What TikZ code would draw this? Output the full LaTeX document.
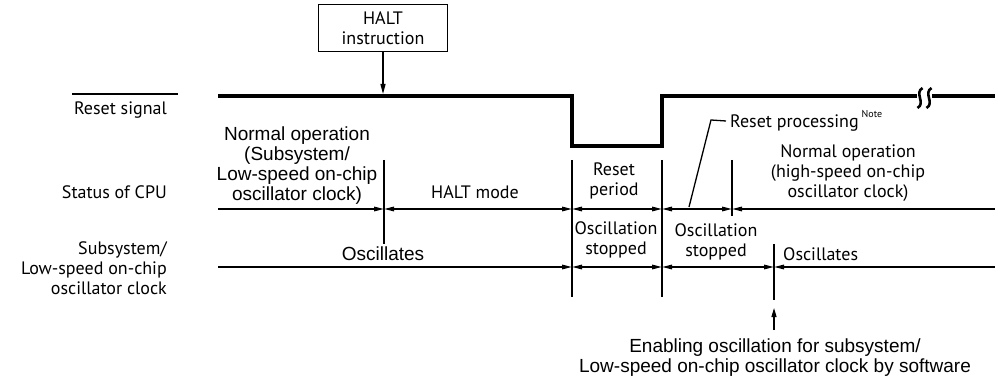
\documentclass[tikz,border=0pt]{standalone}
\usepackage{fontspec}
\setmainfont{Liberation Sans}
\newfontfamily\myr{PT Sans}
\usetikzlibrary{arrows.meta}
\begin{document}
\begin{tikzpicture}[x=1pt,y=-1pt,
  ar/.style={font=\fontsize{19}{20}\selectfont, align=center, inner sep=0pt},
  my/.style={font=\myr\fontsize{18}{20}\selectfont, align=center, inner sep=0pt},
  ln/.style={line width=1.3pt},
  sig/.style={line width=3.2pt},
  tip/.tip={Triangle[length=10pt,width=4.5pt]},
  dimboth/.style={ln, tip-tip},
  dimend/.style={ln, -tip},
  dimstart/.style={ln, tip-},
  brk/.style={line width=2.6pt}
]
\useasboundingbox (0,0) rectangle (995,379);

% HALT instruction box
\node[my, draw, line width=1pt, minimum width=129pt, minimum height=47pt] (halt) at (383,28.5) {HALT\\instruction};
\coordinate (haltin) at (383,94);
\draw[ln, -{Triangle[length=10pt,width=5pt]}] (halt.south) -- (haltin);

% left labels
\node[my, anchor=east] (rs) at (167,110) {Reset signal};
\coordinate (ovl) at (72,94);
\coordinate (ovr) at (178,94);
\draw[ln] (ovl) -- (ovr);
\node[my, anchor=east] (cpu) at (167,192) {Status of CPU};
\node[my, anchor=east, align=right] (sub) at (167,268) {Subsystem/\\Low-speed on-chip\\oscillator clock};

% reset signal waveform
\coordinate (r0) at (218,96);
\coordinate (r1) at (572,96);
\coordinate (r2) at (572,146);
\coordinate (r3) at (662,146);
\coordinate (r4) at (662,96);
\coordinate (r5) at (917,96);
\coordinate (r6) at (932,96);
\coordinate (r7) at (995,96);
\draw[sig, line join=miter] (r0) -- (r1) -- (r2) -- (r3) -- (r4) -- (r5);
\draw[sig] (r6) -- (r7);
\draw[brk] (922.5,88) .. controls (914,93) and (926,103) .. (917.5,108);
\draw[brk] (931.5,88) .. controls (923,93) and (935,103) .. (926.5,108);

% CPU status line
\coordinate (s0) at (218,209);
\coordinate (s1) at (384,209);
\coordinate (s2) at (572,209);
\coordinate (s3) at (662,209);
\coordinate (s4) at (732,209);
\coordinate (s5) at (995,209);
\draw[dimend] (s0) -- (s1);
\draw[dimboth] (s1) -- (s2);
\draw[dimboth] (s2) -- (s3);
\draw[dimboth] (s3) -- (s4);
\draw[dimstart] (s4) -- (s5);

% clock line
\coordinate (o0) at (218,267);
\coordinate (o1) at (572,267);
\coordinate (o2) at (662,267);
\coordinate (o3) at (774,267);
\coordinate (o4) at (995,267);
\draw[dimend] (o0) -- (o1);
\draw[dimboth] (o1) -- (o2);
\draw[dimboth] (o2) -- (o3);
\draw[dimstart] (o3) -- (o4);

% vertical markers
\coordinate (v1t) at (384,160); \coordinate (v1b) at (384,244);
\coordinate (v2t) at (572,160); \coordinate (v2b) at (572,297);
\coordinate (v3t) at (662,160); \coordinate (v3b) at (662,297);
\coordinate (v4t) at (732,160); \coordinate (v4b) at (732,216);
\coordinate (v5t) at (774,244); \coordinate (v5b) at (774,300);
\draw[ln] (v1t) -- (v1b);
\draw[ln] (v2t) -- (v2b);
\draw[ln] (v3t) -- (v3b);
\draw[ln] (v4t) -- (v4b);
\draw[ln] (v5t) -- (v5b);

% texts in the diagram
\node[ar] (no1) at (297,166) {Normal operation\\(Subsystem/\\Low-speed on-chip\\oscillator clock)};
\node[my] (hm) at (475,192) {HALT mode};
\node[my] (rp) at (614,181) {Reset\\period};
\node[my] (os1) at (616,240) {Oscillation\\stopped};
\node[my] (os2) at (716,242) {Oscillation\\stopped};
\node[ar] (osc1) at (383,254) {Oscillates};
\node[my, anchor=west] (osc2) at (783,254) {Oscillates};
\node[my] (no2) at (848,173) {Normal operation\\(high-speed on-chip\\oscillator clock)};

% reset processing note
\node[my, anchor=west] (rpn) at (730,121) {Reset processing\,\raisebox{0.55em}{\fontsize{10}{10}\selectfont Note}};
\coordinate (ld0) at (689,207);
\coordinate (ld1) at (711,120);
\draw[ln] (ld0) -- (ld1) -- ([xshift=-4pt]rpn.west);

% enabling oscillation note
\node[ar] (en) at (775,358) {Enabling oscillation for subsystem/\\Low-speed on-chip oscillator clock by software};
\coordinate (ent) at (774,330);
\coordinate (enh) at (774,308);
\draw[ln, -{Triangle[length=9pt,width=5pt]}] (ent) -- (enh);
\end{tikzpicture}
\end{document}
